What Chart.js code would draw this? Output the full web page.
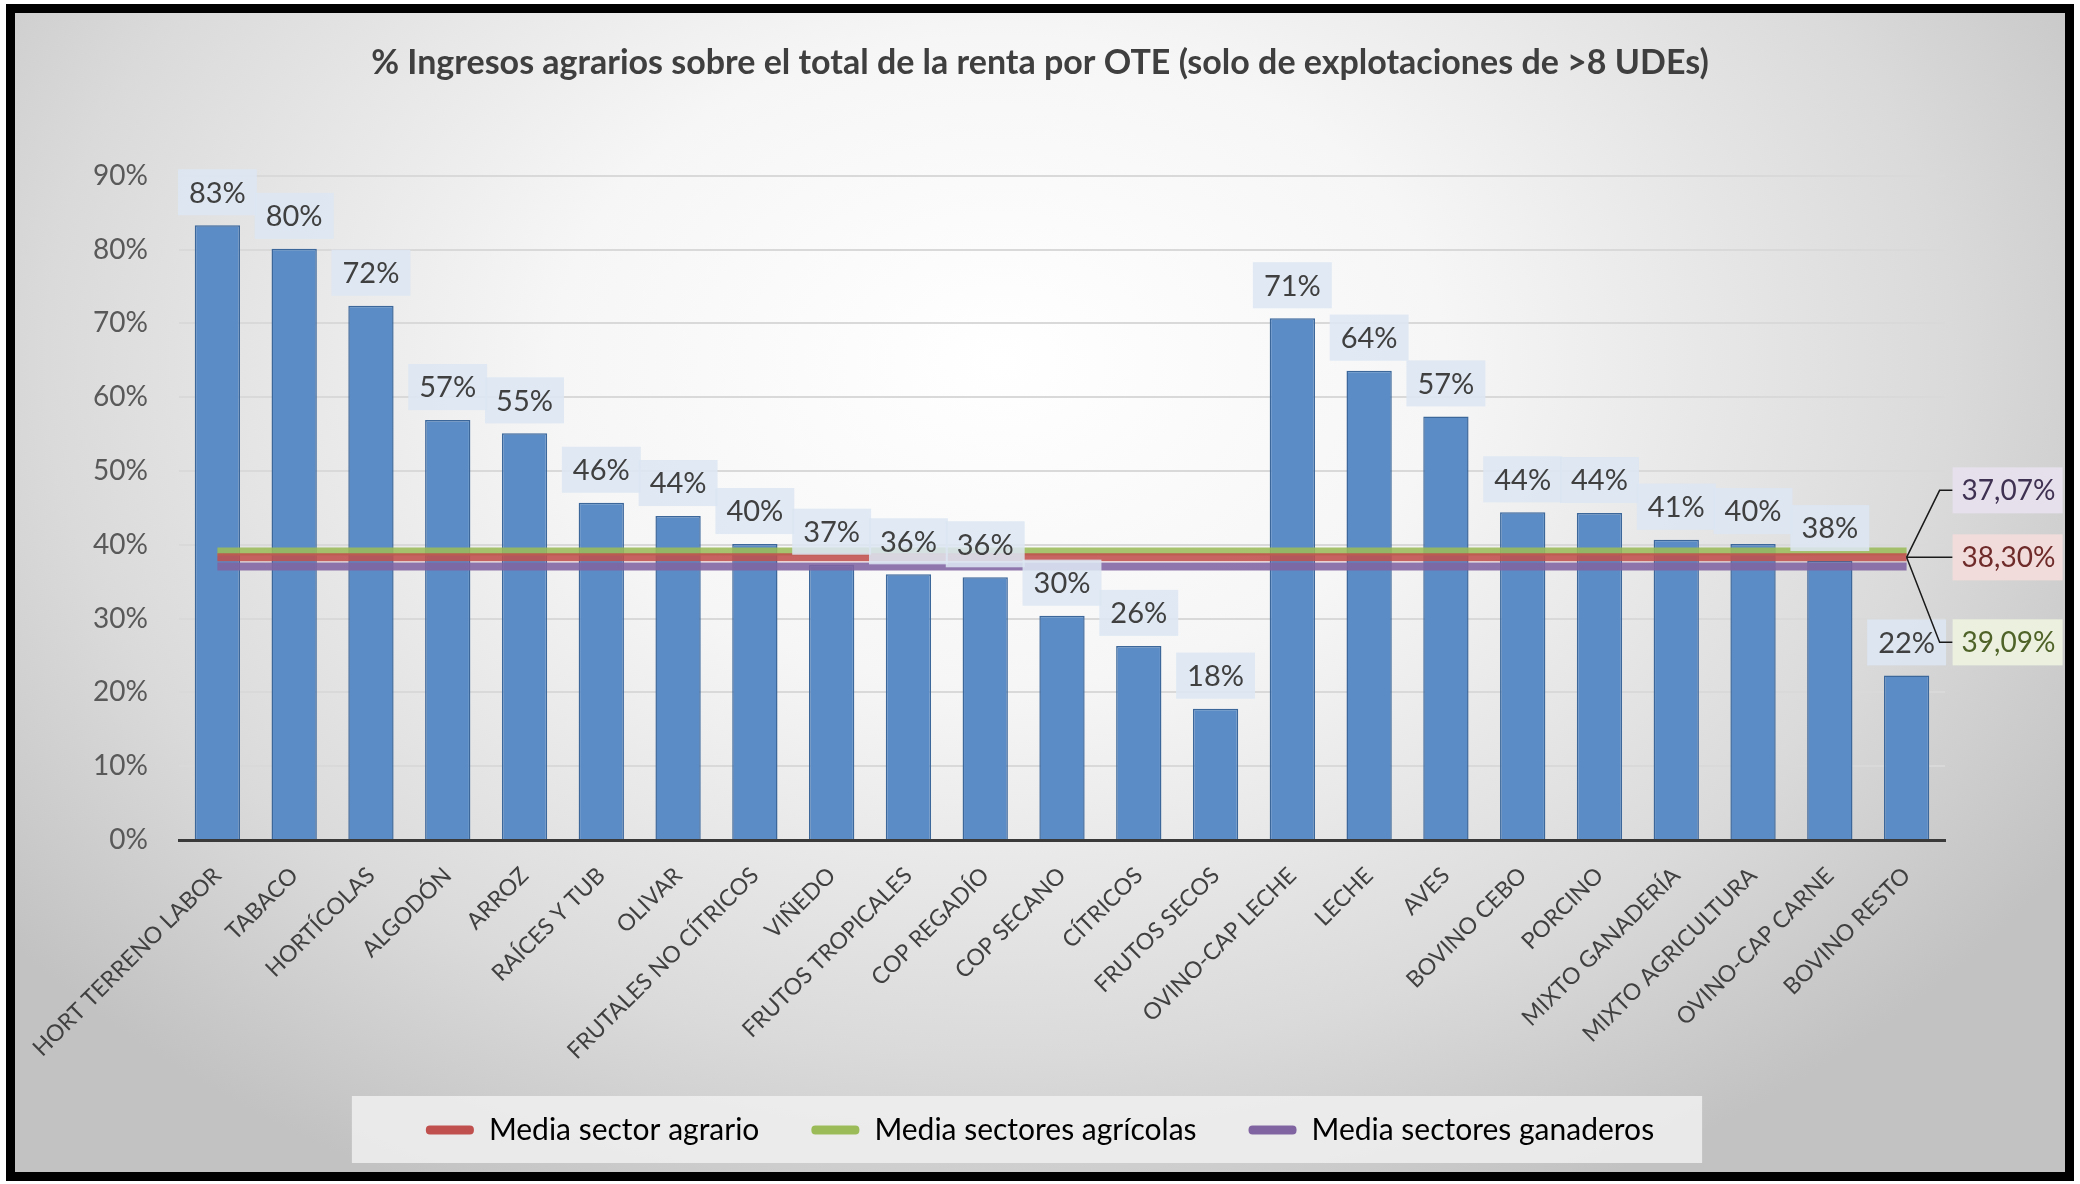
<!DOCTYPE html>
<html>
<head>
<meta charset="utf-8">
<script src="https://cdn.jsdelivr.net/npm/chart.js@4.4.4/dist/chart.umd.min.js"></script>
<style>
  html, body { margin: 0; padding: 0; background: #fff; }
  #frame {
    position: absolute; left: 6px; top: 4px;
    width: 2068px; height: 1177px;
    box-sizing: border-box; border: 9px solid #000;
    background: radial-gradient(ellipse 62% 80% at 48% 30%, #ffffff 0%, #f6f6f6 35%, #dadada 75%, #c2c2c2 100%);
  }
  canvas { display: block; }
</style>
</head>
<body>
<div id="frame"><canvas id="chart" width="2050" height="1159"></canvas></div>
<script>
const categories = [
  "HORT TERRENO LABOR", "TABACO", "HORTÍCOLAS", "ALGODÓN", "ARROZ", "RAÍCES Y TUB",
  "OLIVAR", "FRUTALES NO CÍTRICOS", "VIÑEDO", "FRUTOS TROPICALES", "COP REGADÍO",
  "COP SECANO", "CÍTRICOS", "FRUTOS SECOS", "OVINO-CAP LECHE", "LECHE", "AVES",
  "BOVINO CEBO", "PORCINO", "MIXTO GANADERÍA", "MIXTO AGRICULTURA", "OVINO-CAP CARNE",
  "BOVINO RESTO"
];
const values = [83.3, 80.1, 72.4, 56.9, 55.1, 45.7, 43.9, 40.1, 37.3, 36.0, 35.6, 30.4,
  26.3, 17.8, 70.7, 63.6, 57.4, 44.4, 44.3, 40.7, 40.1, 37.8, 22.3];

const mediaAgrario = 38.30;
const mediaAgricolas = 39.09;
const mediaGanaderos = 37.07;

const yTicks = [0, 10, 20, 30, 40, 50, 60, 70, 80, 90];

const FONT = "Lato, 'Liberation Sans Narrow', 'Open Sans', sans-serif";
Chart.defaults.font.family = FONT;
Chart.defaults.color = "#404040";

const first = categories[0];
const last = categories[categories.length - 1];

// horizontal average line between first and last category
function avgLine(label, value, color, order) {
  return {
    type: "line",
    label: label,
    data: [{x: first, y: value}, {x: last, y: value}],
    borderColor: color,
    backgroundColor: color,
    borderWidth: 8,
    borderCapStyle: "butt",
    pointRadius: 0,
    fill: false,
    order: order,
  };
}

const datasets = [
  {
    type: "bar",
    label: "% ingresos agrarios",
    data: values,
    backgroundColor: "#5b8cc6",
    borderColor: "#3c679b",
    borderWidth: 1.5,
    barPercentage: 0.59,
    categoryPercentage: 1,
    order: 10,
  },
  avgLine("Media sector agrario", mediaAgrario, "rgba(192,80,77,0.88)", 2),
  avgLine("Media sectores agrícolas", mediaAgricolas, "rgba(155,187,89,0.88)", 3),
  avgLine("Media sectores ganaderos", mediaGanaderos, "rgba(128,100,162,0.88)", 1),
];

const legendColors = ["#c0504d", "#9bbb59", "#8064a2"];

// value labels over bars, and the callouts for the averages
const labelPlugin = {
  id: "labels",
  afterDatasetsDraw(chart) {
    const ctx = chart.ctx;
    ctx.save();
    ctx.font = "29px " + FONT;
    ctx.textAlign = "center";
    ctx.textBaseline = "middle";
    const bars = chart.getDatasetMeta(0).data;
    bars.forEach((bar, i) => {
      const txt = Math.round(values[i]) + "%";
      const w = ctx.measureText(txt).width + 22;
      const h = 46;
      const top = bar.y - 10 - h;
      ctx.fillStyle = "rgba(220,230,242,0.88)";
      ctx.fillRect(bar.x - w / 2, top, w, h);
      ctx.fillStyle = "#404040";
      ctx.fillText(txt, bar.x, top + h / 2 + 1);
    });

    // callouts on the right
    const pts = chart.getDatasetMeta(1).data;
    const anchor = pts[pts.length - 1];
    const callouts = [
      {v: mediaGanaderos, dy: -67, bg: "#e6e0ed", fg: "#3f3151"},
      {v: mediaAgrario, dy: 0, bg: "#f2dcdb", fg: "#6e2b29"},
      {v: mediaAgricolas, dy: 85, bg: "#ebf1de", fg: "#4f6228"},
    ];
    ctx.textAlign = "left";
    ctx.font = "28px " + FONT;
    callouts.forEach(c => {
      const y = anchor.y + c.dy;
      const bx = anchor.x + 46;
      ctx.strokeStyle = "#1a1a1a";
      ctx.lineWidth = 1.5;
      ctx.beginPath();
      ctx.moveTo(anchor.x, anchor.y);
      ctx.lineTo(anchor.x + (c.dy === 0 ? 20 : 33), y);
      ctx.lineTo(bx, y);
      ctx.stroke();
      ctx.fillStyle = c.bg;
      ctx.fillRect(bx, y - 23, 110, 46);
      ctx.fillStyle = c.fg;
      ctx.fillText(c.v.toFixed(2).replace(".", ",") + "%", bx + 9, y + 1);
    });
    ctx.restore();
  },
};

// light box behind the legend
const legendBg = {
  id: "legendBg",
  beforeDraw(chart) {
    const lg = chart.legend;
    if (!lg || !lg.legendHitBoxes.length) return;
    const hb = lg.legendHitBoxes;
    const x0 = hb[0].left - 74;
    const x1 = hb[hb.length - 1].left + hb[hb.length - 1].width + 48;
    const cy = hb[0].top + hb[0].height / 2;
    const ctx = chart.ctx;
    ctx.save();
    ctx.fillStyle = "rgba(240,240,240,0.85)";
    ctx.fillRect(x0, cy - 34, x1 - x0, 67);
    ctx.restore();
  },
};

new Chart(document.getElementById("chart"), {
  data: {labels: categories, datasets: datasets},
  plugins: [legendBg, labelPlugin],
  options: {
    responsive: false,
    animation: false,
    devicePixelRatio: 1,
    layout: {padding: {left: 0, right: 0, top: 0, bottom: 17}},
    plugins: {
      tooltip: {enabled: false},
      title: {
        display: true,
        text: "% Ingresos agrarios sobre el total de la renta por OTE (solo de explotaciones de >8 UDEs)",
        color: "#3f3f3f",
        font: {size: 34, weight: "bold", family: FONT, lineHeight: 1.2},
        padding: {top: 30, bottom: 92},
      },
      legend: {
        position: "bottom",
        labels: {
          font: {size: 30, family: FONT},
          color: "#404040",
          boxWidth: 48,
          boxHeight: 9,
          padding: 52,
          useBorderRadius: true,
          borderRadius: 4,
          generateLabels(chart) {
            return [1, 2, 3].map((di, k) => ({
              text: chart.data.datasets[di].label,
              fillStyle: legendColors[k],
              strokeStyle: legendColors[k],
              lineWidth: 0,
              datasetIndex: di,
              borderRadius: 4,
            }));
          },
        },
      },
    },
    scales: {
      x: {
        type: "category",
        offset: true,
        grid: {display: false, drawTicks: false},
        border: {display: true, color: "#3a3a3a", width: 3},
        ticks: {
          autoSkip: false,
          minRotation: 45,
          maxRotation: 45,
          padding: 22,
          color: "#404040",
          font: {size: 23, family: FONT},
        },
        afterFit(s) {
          s.height = 223;
          s.paddingLeft = 0;
          s.paddingRight = 0;
        },
      },
      y: {
        min: 0,
        max: 90,
        afterBuildTicks(s) { s.ticks = yTicks.map(v => ({value: v})); },
        grid: {color: "#d9d9d9", lineWidth: 2, drawTicks: false},
        border: {display: false},
        ticks: {
          padding: 31,
          color: "#595959",
          font: {size: 28, family: FONT},
          callback: v => v + "%",
        },
        afterFit(s) { s.width = 164; },
      },
      yR: {
        position: "right",
        display: true,
        grid: {display: false},
        border: {display: false},
        ticks: {display: false},
        afterFit(s) { s.width = 120; },
      },
    },
  },
});
</script>
</body>
</html>
